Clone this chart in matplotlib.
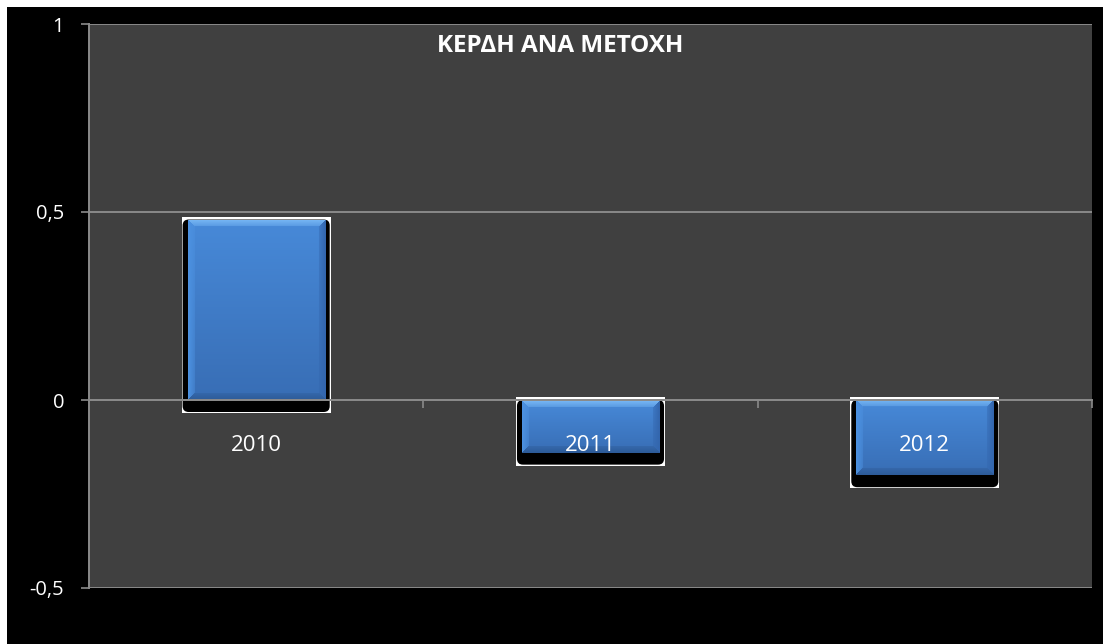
import numpy as np
import matplotlib
matplotlib.use("Agg")
import matplotlib.pyplot as plt
from matplotlib.patches import Rectangle, FancyBboxPatch

# Κέρδη ανά μετοχή
years = ["2010", "2011", "2012"]
eps = [0.48, -0.14, -0.20]
yticks = [-0.5, 0, 0.5, 1]
ylabels = ["-0,5", "0", "0,5", "1"]

plt.rcParams["font.family"] = ["Open Sans", "DejaVu Sans"]

W, H = 1103, 644
fig = plt.figure(figsize=(W / 100, H / 100), dpi=100, facecolor="black")

# white strips on the top and left edges of the canvas
fig.patches.append(Rectangle((0, 1 - 7 / H), 1, 7 / H, transform=fig.transFigure,
                             facecolor="white", edgecolor="none", zorder=-1))
fig.patches.append(Rectangle((0, 0), 7 / W, 1, transform=fig.transFigure,
                             facecolor="white", edgecolor="none", zorder=-1))

ax_l, ax_b, ax_w, ax_h = 89, 56, 1003, 564
ax = fig.add_axes([ax_l / W, ax_b / H, ax_w / W, ax_h / H])
ax.set_facecolor("#404040")

xmin, xmax, ymin, ymax = -0.5, 2.5, -0.5, 1.0
px_x = (xmax - xmin) / ax_w
px_y = (ymax - ymin) / ax_h

grey = "#8a8a8a"
x = np.arange(len(years))
bars = ax.bar(x, eps, width=0.41, color="#3f7dcc", edgecolor="none", zorder=0.8)


def bevel(h, w, b=7):
    yy, xx = np.mgrid[0:h, 0:w].astype(float)
    t = (yy / max(h - 1, 1))[..., None]
    top = np.array([0.28, 0.54, 0.85])
    bot = np.array([0.22, 0.43, 0.71])
    img = top * (1 - t) + bot * t
    d = np.stack([yy, h - 1 - yy, xx, w - 1 - xx])
    edge = d.argmin(axis=0)
    dist = d.min(axis=0)
    cols = np.array([[0.47, 0.72, 0.96],   # top
                     [0.18, 0.36, 0.60],   # bottom
                     [0.30, 0.57, 0.88],   # left
                     [0.20, 0.40, 0.68]])  # right
    k = np.clip(1 - dist / b, 0, 1)[..., None]
    k = np.where(dist[..., None] < b, 0.35 + 0.65 * k, 0)
    img = img * (1 - k) + cols[edge] * k
    return np.clip(img, 0, 1)


for bar in bars:
    x0, y0 = bar.get_x(), bar.get_y()
    bw, bh = bar.get_width(), bar.get_height()
    if bh < 0:
        y0, bh = y0 + bh, -bh
    y1, x1 = y0 + bh, x0 + bw

    # white frame and dropped shadow behind each bar
    ax.add_patch(Rectangle((x0 - 6 * px_x, y0 - 13 * px_y), bw + 12 * px_x, bh + 16 * px_y,
                           facecolor="white", edgecolor="none", zorder=0.5))
    ax.add_patch(FancyBboxPatch((x0 - 5 * px_x, y0 - 12 * px_y), bw + 10 * px_x, bh + 12 * px_y,
                                boxstyle="round,pad=0,rounding_size=%f" % (6 * px_x),
                                mutation_aspect=px_y / px_x,
                                facecolor="black", edgecolor="none", zorder=0.6))

    hp, wp = max(int(round(bh / px_y)), 2), max(int(round(bw / px_x)), 2)
    im = ax.imshow(bevel(hp, wp), extent=(x0, x1, y0, y1), origin="upper",
                   aspect="auto", interpolation="bilinear", zorder=0.9)
    im.set_clip_path(bar)

ax.set_xlim(xmin, xmax)
ax.set_ylim(ymin, ymax)

ax.set_yticks(yticks)
ax.set_yticklabels(ylabels)
ax.yaxis.grid(True, color=grey, linewidth=1.4)
ax.tick_params(axis="y", colors=grey, labelcolor="white", labelsize=14.5,
               length=6, width=1.2, pad=12)

ax.set_xticks(x)
ax.set_xticklabels(years)
ax.set_xticks([0.5, 1.5, 2.5], minor=True)
ax.tick_params(axis="x", which="major", length=0, labelcolor="white",
               labelsize=16, pad=25)
ax.tick_params(axis="x", which="minor", colors=grey, length=6, width=1.2)

for side in ("top", "right"):
    ax.spines[side].set_visible(False)
ax.spines["left"].set_color(grey)
ax.spines["left"].set_linewidth(1.4)
ax.spines["bottom"].set_position(("data", 0))
ax.spines["bottom"].set_color(grey)
ax.spines["bottom"].set_linewidth(1.4)

fig.text(560 / W, 1 - 46 / H, "ΚΕΡΔΗ ΑΝΑ ΜΕΤΟΧΗ", color="white",
         fontsize=17.5, fontweight="bold", ha="center", va="center")

fig.savefig("out.png", dpi=100, facecolor="black")
